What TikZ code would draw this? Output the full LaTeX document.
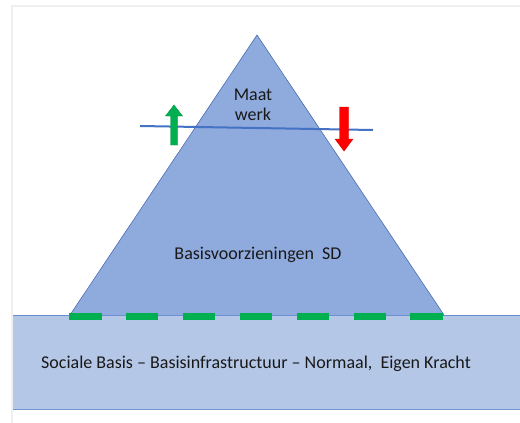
\documentclass[tikz,border=0pt]{standalone}
\usepackage{fontspec}
\setmainfont{Carlito}
\definecolor{trifill}{HTML}{8FAADC}
\definecolor{triline}{HTML}{4A6FB5}
\definecolor{basefill}{HTML}{B4C7E7}
\definecolor{lineblue}{HTML}{4472C4}
\definecolor{dashgreen}{HTML}{00B050}
\definecolor{framegray}{HTML}{EFEFEF}
\tikzset{
  lbl/.style={font=\fontsize{18}{20}\selectfont, text=black!90, inner sep=0pt, align=center},
  arrowshape/.style={line width=0.4pt}
}
\begin{document}
\begin{tikzpicture}[x=1pt,y=-1pt]
\useasboundingbox (0,0) rectangle (520,423);
\fill[white] (0,0) rectangle (520,423);
% frame
\draw[framegray, line width=2pt] (12,430) -- (12,6) -- (530,6);
% base rectangle
\fill[basefill] (13,315) rectangle (520,410);
\draw[lineblue!80, line width=0.8pt] (13,315) -- (520,315);
\draw[lineblue!75, line width=1.3pt] (13,409.5) -- (520,409.5);
% triangle
\coordinate (apex) at (257,35);
\coordinate (bl) at (70,315);
\coordinate (br) at (444,315);
\fill[trifill] (bl) -- (apex) -- (br) -- cycle;
\draw[triline, line width=0.6pt] (bl) -- (apex) -- (br);
% green dashes
\coordinate (dl) at (69,316.5);
\coordinate (dr) at (443,316.5);
\draw[dashgreen, line width=6.5pt, dash pattern=on 32.5pt off 24.4pt] (dl) -- (dr);
% horizontal line
\coordinate (hl) at (140,126);
\coordinate (hr) at (373,130);
\draw[lineblue, line width=2pt] (hl) -- (hr);
% green up arrow
\filldraw[fill=dashgreen, draw=dashgreen!85!black, arrowshape]
  (174,105) -- (182.5,116) -- (177.5,116) -- (177.5,145) -- (170.5,145) -- (170.5,116) -- (165.5,116) -- cycle;
% red down arrow
\filldraw[fill=red, draw=red!85!black, arrowshape]
  (344,151) -- (353,139) -- (348.5,139) -- (348.5,107) -- (339.5,107) -- (339.5,139) -- (335,139) -- cycle;
% texts
\node[lbl] (maat) at (253,105) {Maat\\werk};
\node[lbl] (basis) at (258,255) {Basisvoorzieningen\ \ SD};
\node[lbl] (sociaal) at (256,363.5) {Sociale Basis – Basisinfrastructuur – Normaal,\ \ Eigen Kracht};
\end{tikzpicture}
\end{document}
